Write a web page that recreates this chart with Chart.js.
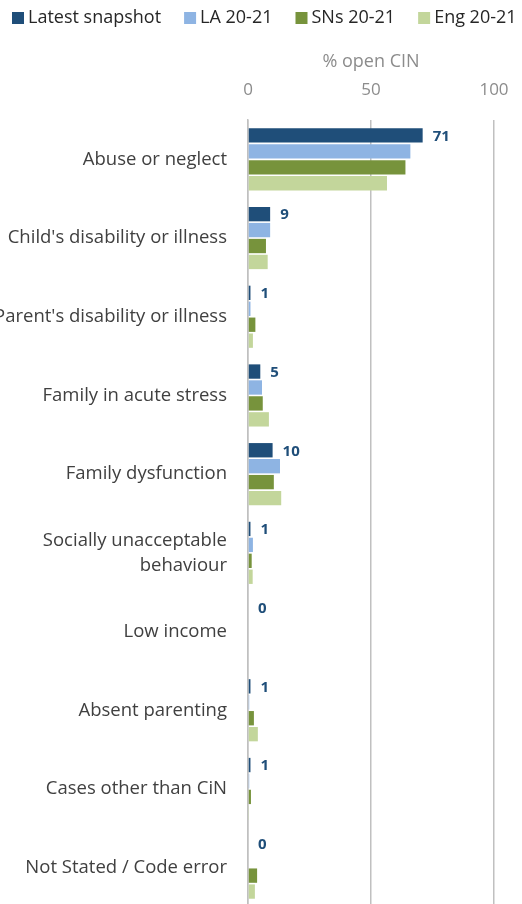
<!DOCTYPE html>
<html>
<head>
<meta charset="utf-8">
<script src="https://cdn.jsdelivr.net/npm/chart.js@4/dist/chart.umd.min.js"></script>
<style>
  html, body { margin: 0; padding: 0; background: #ffffff; overflow: hidden; }
  #wrap { width: 522px; height: 907px; position: relative; }
</style>
</head>
<body>
<div id="wrap"><canvas id="myChart"></canvas></div>
<script>
// Categories (y axis)
const categories = [
    "Abuse or neglect",
    "Child's disability or illness",
    "Parent's disability or illness",
    "Family in acute stress",
    "Family dysfunction",
    ["Socially unacceptable", "behaviour"],
    "Low income",
    "Absent parenting",
    "Cases other than CiN",
    "Not Stated / Code error"
];

// Series values, % of open CIN
const latestSnapshot = [71, 9, 1, 5, 10, 1, 0, 1, 1, 0];
const la2021 = [66, 9, 1, 5.7, 13, 2, 0, 0.5, 0.5, 0];
const sns2021 = [64, 7.3, 3, 6, 10.5, 1.5, 0, 2.4, 1.2, 3.7];
const eng2021 = [56.5, 8, 2, 8.5, 13.5, 1.9, 0, 4, 0.4, 2.8];

// Axis ticks
const xTicks = [0, 50, 100];

const textFont = "'Open Sans', 'Noto Sans', sans-serif";

// Draws the value next to each "Latest snapshot" bar
const latestLabels = {
    id: 'latestLabels',
    afterDatasetsDraw(chart) {
        const ctx = chart.ctx;
        const meta = chart.getDatasetMeta(0);
        ctx.save();
        ctx.font = 'bold 15px ' + textFont;
        ctx.fillStyle = '#1f4e79';
        ctx.textAlign = 'left';
        ctx.textBaseline = 'middle';
        meta.data.forEach((bar, i) => {
            ctx.fillText(String(Math.round(latestSnapshot[i])), bar.x + 10, bar.y + 1);
        });
        ctx.restore();
    }
};

// Single-row legend across the top (the built-in one wraps at this width)
const topLegend = {
    id: 'topLegend',
    afterDraw(chart) {
        const ctx = chart.ctx;
        let x = 12;
        const y = 18;
        ctx.save();
        ctx.font = '18px ' + textFont;
        ctx.textBaseline = 'middle';
        ctx.textAlign = 'left';
        chart.data.datasets.forEach(ds => {
            ctx.fillStyle = ds.backgroundColor;
            ctx.fillRect(x, y - 6, 12, 12);
            x += 16;
            ctx.fillStyle = '#262626';
            ctx.fillText(ds.label, x, y);
            x += ctx.measureText(ds.label).width + 23;
        });
        ctx.restore();
    }
};

const ctx = document.getElementById('myChart').getContext('2d');

new Chart(ctx, {
    type: 'bar',
    data: {
        labels: categories,
        datasets: [
            { label: 'Latest snapshot', data: latestSnapshot, backgroundColor: '#1f4e79' },
            { label: 'LA 20-21', data: la2021, backgroundColor: '#8eb4e3' },
            { label: 'SNs 20-21', data: sns2021, backgroundColor: '#77933c' },
            { label: 'Eng 20-21', data: eng2021, backgroundColor: '#c3d69b' }
        ]
    },
    options: {
        indexAxis: 'y',
        responsive: true,
        maintainAspectRatio: false,
        animation: false,
        layout: { padding: { left: 0, right: 28, top: 51, bottom: 0 } },
        datasets: {
            bar: { categoryPercentage: 0.81, barPercentage: 0.9 }
        },
        scales: {
            x: {
                position: 'top',
                min: 0,
                max: 100,
                afterBuildTicks: (scale) => { scale.ticks = xTicks.map(v => ({ value: v })); },
                afterFit: (scale) => { scale.paddingLeft = 0; scale.paddingRight = 0; },
                grid: { color: '#c0c0c0', drawTicks: false, lineWidth: 1.5 },
                border: { display: false },
                ticks: {
                    color: '#8c8c8c',
                    padding: 20,
                    font: { family: textFont, size: 17 }
                },
                title: {
                    display: true,
                    text: '% open CIN',
                    color: '#8c8c8c',
                    padding: { top: 0, bottom: -13 },
                    font: { family: textFont, size: 18 }
                }
            },
            y: {
                afterFit: (scale) => {
                    scale.width = 248;
                    scale.paddingTop = 0;
                    scale.paddingBottom = 0;
                },
                grid: { display: false, drawTicks: false },
                border: { display: true, color: '#c0c0c0', width: 1.5 },
                ticks: {
                    color: '#404040',
                    padding: 21,
                    font: { family: textFont, size: 18.5, lineHeight: 1.35 }
                }
            }
        },
        plugins: {
            legend: { display: false },
            tooltip: { enabled: false }
        }
    },
    plugins: [latestLabels, topLegend]
});
</script>
</body>
</html>
